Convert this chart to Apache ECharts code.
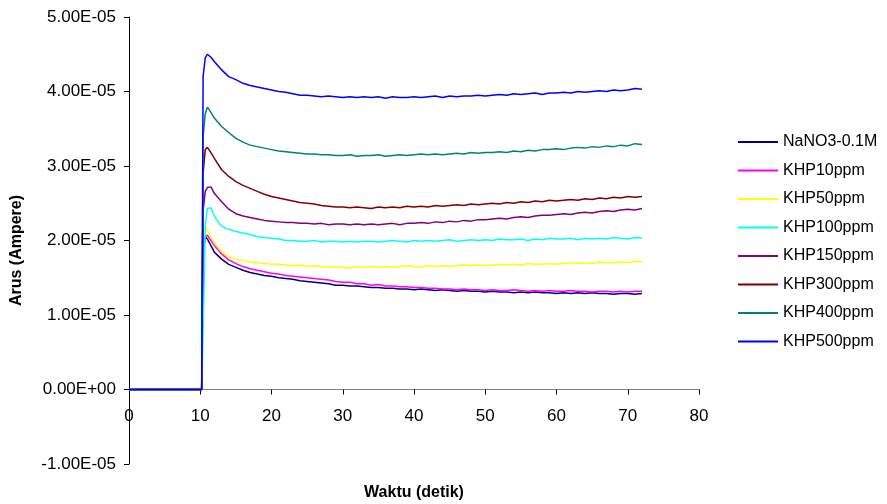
<!DOCTYPE html>
<html>
<head>
<meta charset="utf-8">
<script src="https://cdn.jsdelivr.net/npm/echarts@6/dist/echarts.min.js"></script>
<style>
  html, body { margin: 0; padding: 0; background: #fff; }
  #chart { width: 887px; height: 504px; }
</style>
</head>
<body>
<div id="chart"></div>
<script>
// waktu (detik)
var waktu = [0, 10.2, 10.4, 10.7, 11, 11.5, 12,
  13, 14, 15, 16, 17, 18, 19, 20, 21, 22, 23, 24, 25, 26, 27, 28, 29, 30,
  31, 32, 33, 34, 35, 36, 37, 38, 39, 40, 41, 42, 43, 44, 45, 46, 47, 48, 49, 50,
  51, 52, 53, 54, 55, 56, 57, 58, 59, 60, 61, 62, 63, 64, 65, 66, 67, 68, 69, 70,
  71, 72];

// arus, dalam satuan 1E-06 A
var nano3 = [0, 0, 18.5, 20.5, 20.2, 19.3, 18.4,
  17.5, 16.8, 16.4, 16.0, 15.7, 15.5, 15.3, 15.2, 15.0, 14.9, 14.8, 14.6, 14.5, 14.4, 14.3, 14.2, 14.0, 14.0,
  13.9, 13.9, 13.8, 13.7, 13.7, 13.6, 13.6, 13.5, 13.5, 13.4, 13.5, 13.4, 13.3, 13.4, 13.3, 13.2, 13.3, 13.2, 13.2, 13.1,
  13.2, 13.1, 13.1, 13.0, 13.1, 13.0, 13.1, 13.0, 13.0, 12.9, 13.0, 12.9, 13.0, 12.9, 13.0, 12.9, 12.9, 12.8, 12.9, 12.9,
  12.8, 12.9];
var khp10 = [0, 0, 19.0, 20.6, 20.7, 20.0, 19.3,
  18.2, 17.4, 16.9, 16.5, 16.2, 16.0, 15.8, 15.6, 15.5, 15.3, 15.2, 15.1, 15.0, 14.9, 14.8, 14.7, 14.5, 14.4,
  14.4, 14.2, 14.2, 14.0, 14.1, 13.9, 13.9, 13.8, 13.8, 13.7, 13.7, 13.6, 13.6, 13.5, 13.5, 13.4, 13.5, 13.4, 13.4, 13.3,
  13.4, 13.3, 13.3, 13.4, 13.3, 13.2, 13.3, 13.2, 13.3, 13.2, 13.2, 13.3, 13.2, 13.2, 13.1, 13.2, 13.2, 13.1, 13.2, 13.1,
  13.2, 13.2];
var khp50 = [0, 0, 20.0, 21.8, 21.3, 20.4, 19.6,
  18.5, 17.8, 17.5, 17.3, 17.1, 17.0, 16.9, 16.8, 16.8, 16.7, 16.6, 16.7, 16.5, 16.6, 16.5, 16.4, 16.5, 16.4,
  16.3, 16.5, 16.4, 16.5, 16.4, 16.5, 16.4, 16.5, 16.6, 16.5, 16.4, 16.6, 16.5, 16.6, 16.5, 16.6, 16.7, 16.6, 16.7, 16.6,
  16.7, 16.8, 16.7, 16.8, 16.7, 16.9, 16.8, 16.8, 16.9, 16.8, 16.9, 17.0, 16.9, 17.0, 16.9, 17.1, 17.0, 17.0, 17.1, 17.0,
  17.2, 17.1];
var khp100 = [0, 0, 8.0, 22.0, 24.3, 24.4, 23.2,
  21.9, 21.5, 21.2, 21.0, 20.8, 20.5, 20.4, 20.3, 20.2, 20.0, 20.0, 19.9, 19.9, 20.0, 19.8, 19.9, 19.9, 19.8,
  19.9, 19.8, 19.9, 19.9, 19.8, 19.9, 20.0, 19.9, 19.8, 20.0, 19.9, 20.0, 19.9, 20.0, 20.1, 19.9, 20.0, 20.1, 20.0, 20.1,
  20.0, 20.2, 20.1, 20.1, 20.2, 20.0, 20.2, 20.1, 20.3, 20.2, 20.2, 20.3, 20.1, 20.3, 20.2, 20.3, 20.2, 20.4, 20.3, 20.2,
  20.4, 20.3];
var khp150 = [0, 0, 24.0, 26.6, 27.1, 27.2, 26.3,
  25.2, 24.2, 23.6, 23.3, 23.1, 22.9, 22.7, 22.6, 22.5, 22.4, 22.4, 22.3, 22.3, 22.2, 22.3, 22.1, 22.2, 22.2,
  22.1, 22.2, 22.1, 22.2, 22.1, 22.2, 22.3, 22.1, 22.3, 22.3, 22.4, 22.3, 22.5, 22.4, 22.6, 22.5, 22.7, 22.6, 22.8, 22.8,
  22.9, 23.0, 22.9, 23.1, 23.2, 23.1, 23.3, 23.4, 23.4, 23.5, 23.6, 23.5, 23.7, 23.8, 23.7, 23.9, 24.0, 23.9, 24.1, 24.2,
  24.1, 24.3];
var khp300 = [0, 0, 29.0, 32.2, 32.5, 31.8, 31.0,
  29.5, 28.6, 27.9, 27.4, 27.0, 26.6, 26.2, 25.9, 25.7, 25.5, 25.3, 25.1, 25.0, 24.9, 24.7, 24.6, 24.5, 24.5,
  24.4, 24.5, 24.4, 24.3, 24.5, 24.4, 24.5, 24.4, 24.6, 24.5, 24.6, 24.5, 24.7, 24.6, 24.7, 24.8, 24.7, 24.9, 24.8, 24.9,
  25.0, 24.9, 25.1, 25.0, 25.2, 25.1, 25.3, 25.2, 25.4, 25.3, 25.4, 25.5, 25.4, 25.6, 25.5, 25.7, 25.6, 25.8, 25.7, 25.9,
  25.8, 25.9];
var khp400 = [0, 0, 34.0, 37.0, 37.9, 37.2, 36.4,
  35.3, 34.5, 33.7, 33.2, 32.8, 32.6, 32.4, 32.2, 32.0, 31.9, 31.8, 31.7, 31.6, 31.6, 31.5, 31.5, 31.4, 31.4,
  31.5, 31.3, 31.4, 31.4, 31.5, 31.3, 31.4, 31.5, 31.4, 31.5, 31.6, 31.5, 31.6, 31.5, 31.6, 31.7, 31.6, 31.8, 31.7, 31.8,
  31.8, 31.9, 31.8, 32.0, 31.9, 32.1, 32.0, 32.2, 32.2, 32.3, 32.2, 32.4, 32.5, 32.4, 32.6, 32.5, 32.7, 32.6, 32.8, 32.7,
  33.0, 32.9];
var khp500 = [0, 0, 42.0, 44.5, 45.0, 44.6, 44.0,
  42.9, 42.0, 41.6, 41.1, 40.8, 40.6, 40.4, 40.2, 40.0, 39.9, 39.7, 39.5, 39.5, 39.4, 39.3, 39.4, 39.3, 39.2,
  39.3, 39.2, 39.3, 39.2, 39.3, 39.1, 39.3, 39.2, 39.2, 39.3, 39.2, 39.3, 39.4, 39.2, 39.4, 39.3, 39.4, 39.4, 39.5, 39.4,
  39.5, 39.6, 39.5, 39.7, 39.6, 39.7, 39.8, 39.6, 39.8, 39.8, 39.9, 39.8, 40.0, 39.9, 40.0, 40.1, 40.0, 40.2, 40.1, 40.2,
  40.4, 40.3];

var seriesNames = ['NaNO3-0.1M', 'KHP10ppm', 'KHP50ppm', 'KHP100ppm', 'KHP150ppm', 'KHP300ppm', 'KHP400ppm', 'KHP500ppm'];
var seriesData = [nano3, khp10, khp50, khp100, khp150, khp300, khp400, khp500];
var seriesColors = ['#000080', '#FF00FF', '#FFFF00', '#00FFFF', '#800080', '#800000', '#008080', '#0000FF'];
var SATUAN = 1e-6;

var fontFamily = '"Liberation Sans", Arial, sans-serif';

function formatSci(value) {
  var s = value.toExponential(2).toUpperCase();   // 3.00E-5
  var parts = s.split('E');
  var exp = parseInt(parts[1], 10);
  var sign = exp < 0 ? '-' : '+';
  var abs = Math.abs(exp);
  return parts[0] + 'E' + sign + (abs < 10 ? '0' + abs : abs);
}

var chart = echarts.init(document.getElementById('chart'), null, {renderer: 'canvas'});

var series = seriesNames.map(function (name, i) {
  return {
    name: name,
    type: 'line',
    showSymbol: false,
    symbol: 'none',
    lineStyle: {width: 1.5, color: seriesColors[i]},
    itemStyle: {color: seriesColors[i]},
    data: waktu.map(function (t, j) { return [t, seriesData[i][j] * SATUAN]; })
  };
});

var option = {
  animation: false,
  backgroundColor: '#fff',
  textStyle: {fontFamily: fontFamily},
  grid: {left: 129, right: 188, top: 17, bottom: 40, containLabel: false, outerBoundsMode: 'none'},
  legend: {
    orient: 'vertical',
    left: 733,
    top: 129,
    icon: 'rect',
    itemWidth: 40,
    itemHeight: 2,
    itemGap: 12.5,
    data: seriesNames,
    textStyle: {fontFamily: fontFamily, fontSize: 16, color: '#000'}
  },
  xAxis: {
    type: 'value',
    min: 0,
    max: 80,
    interval: 10,
    // garis sumbu x di y = 0 (grid bawah 464, nol di ~389.5)
    offset: -74.5,
    name: 'Waktu (detik)',
    nameLocation: 'middle',
    nameGap: 95,
    nameTextStyle: {fontFamily: fontFamily, fontSize: 16, fontWeight: 'bold', color: '#000'},
    axisLine: {onZero: false, lineStyle: {color: '#808080', width: 1}},
    axisTick: {show: true, length: 5, lineStyle: {color: '#000'}},
    axisLabel: {fontFamily: fontFamily, fontSize: 17, color: '#000', margin: 18},
    splitLine: {show: false}
  },
  yAxis: {
    type: 'value',
    min: -1e-5,
    max: 5e-5,
    interval: 1e-5,
    name: 'Arus (Ampere)',
    nameLocation: 'middle',
    nameGap: 104,
    nameTextStyle: {fontFamily: fontFamily, fontSize: 16, fontWeight: 'bold', color: '#000', padding: [0, 20, 0, 0]},
    axisLine: {show: true, lineStyle: {color: '#000', width: 1}},
    axisTick: {show: true, length: 5, lineStyle: {color: '#000'}},
    axisLabel: {fontFamily: fontFamily, fontSize: 17, color: '#000', margin: 13, formatter: formatSci},
    splitLine: {show: false}
  },
  series: series
};

chart.setOption(option);
</script>
</body>
</html>
